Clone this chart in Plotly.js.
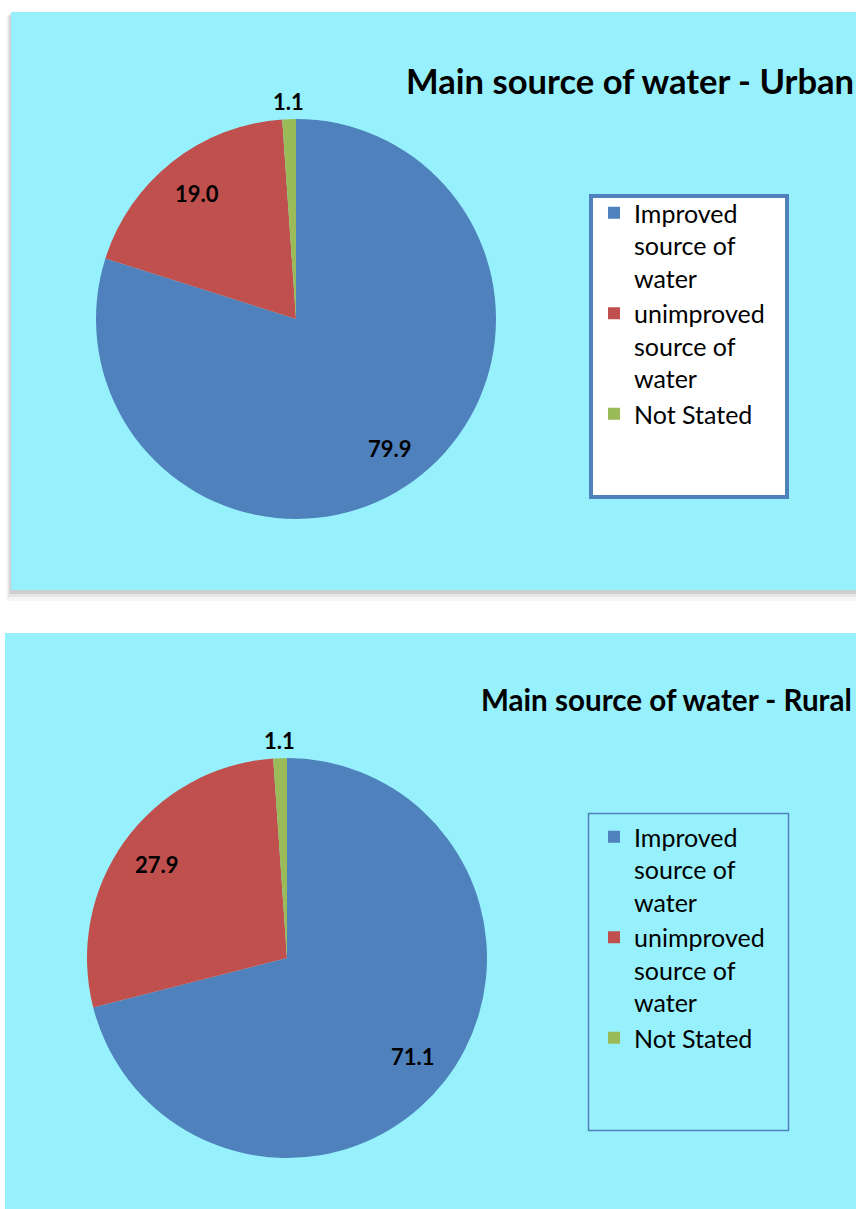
<!DOCTYPE html>
<html>
<head>
<meta charset="utf-8">
<script src="https://cdn.plot.ly/plotly-3.0.1.min.js"></script>
<style>html,body{margin:0;padding:0;background:#fff;}#chart{width:856px;height:1209px;}</style>
</head>
<body>
<div id="chart"></div>
<script>
// ---- data ----
const categories = ['Improved source of water', 'unimproved source of water', 'Not Stated'];
const legendLabels = ['Improved<br>source of<br>water', 'unimproved<br>source of<br>water', 'Not Stated'];
const urbanValues = [79.9, 19.0, 1.1];
const ruralValues = [71.1, 27.9, 1.1];
const urbanTitle = 'Main source of water - Urban';
const ruralTitle = 'Main source of water - Rural';
const sliceColors = ['#4F81BD', '#C0504D', '#9BBB59'];

// ---- layout helpers ----
const W = 856, H = 1209;
const px = x => x / W;
const py = y => 1 - y / H;
const FONT = 'Lato, Carlito, "Open Sans", sans-serif';
const BG = '#97F1FC';

const urbanDomain = {x: [px(96), px(496)], y: [py(519), py(119)]};
const ruralDomain = {x: [px(87), px(487)], y: [py(1158), py(758)]};

function pieLabels(values, domain, insideFrac, outsideFrac, outsideIdx) {
  const total = values.reduce((a, b) => a + b, 0);
  const x0 = domain.x[0] * W, x1 = domain.x[1] * W;
  const yTop = (1 - domain.y[1]) * H, yBot = (1 - domain.y[0]) * H;
  const cx = (x0 + x1) / 2, cy = (yTop + yBot) / 2;
  const R = Math.min(x1 - x0, yBot - yTop) / 2;
  let cum = 0;
  return values.map((v, i) => {
    const mid = (cum + v / 2) / total * 2 * Math.PI;
    cum += v;
    const f = (i === outsideIdx) ? outsideFrac : insideFrac;
    const x = cx + R * f * Math.sin(mid);
    const y = cy - R * f * Math.cos(mid);
    return {
      x: px(x), y: py(y), xref: 'paper', yref: 'paper',
      text: v.toFixed(1), showarrow: false,
      xanchor: 'center', yanchor: 'middle',
      font: {family: FONT, size: 22, color: '#000', weight: 700}
    };
  });
}

const traces = [
  {
    type: 'pie', labels: legendLabels, values: urbanValues,
    domain: urbanDomain, sort: false, direction: 'clockwise', rotation: 0,
    marker: {colors: sliceColors, line: {width: 0}},
    textinfo: 'none', hoverinfo: 'label+value',
    legend: 'legend', legendgroup: 'urban'
  },
  {
    type: 'pie', labels: legendLabels, values: ruralValues,
    domain: ruralDomain, sort: false, direction: 'clockwise', rotation: 0,
    marker: {colors: sliceColors, line: {width: 0}},
    textinfo: 'none', hoverinfo: 'label+value',
    legend: 'legend2', legendgroup: 'rural'
  }
];

const shapes = [
  // top panel soft shadow (mostly below, faint at left)
  {type: 'rect', xref: 'paper', yref: 'paper', layer: 'below', x0: px(6), x1: px(860), y0: py(601), y1: py(16),
   fillcolor: 'rgba(0,0,0,0.04)', line: {width: 0}},
  {type: 'rect', xref: 'paper', yref: 'paper', layer: 'below', x0: px(8), x1: px(860), y0: py(597), y1: py(15),
   fillcolor: 'rgba(0,0,0,0.06)', line: {width: 0}},
  {type: 'rect', xref: 'paper', yref: 'paper', layer: 'below', x0: px(9.5), x1: px(860), y0: py(594), y1: py(14),
   fillcolor: 'rgba(0,0,0,0.10)', line: {width: 0}},
  // top panel
  {type: 'rect', xref: 'paper', yref: 'paper', layer: 'below', x0: px(11), x1: px(860), y0: py(590), y1: py(12),
   fillcolor: BG, line: {width: 0}},
  // bottom panel
  {type: 'rect', xref: 'paper', yref: 'paper', layer: 'below', x0: px(5), x1: px(860), y0: py(1215), y1: py(633),
   fillcolor: BG, line: {width: 0}},
  // top legend box
  {type: 'rect', xref: 'paper', yref: 'paper', layer: 'below', x0: px(591), x1: px(787), y0: py(497), y1: py(196),
   fillcolor: '#FFFFFF', line: {color: '#4F81BD', width: 4}},
  // bottom legend box
  {type: 'rect', xref: 'paper', yref: 'paper', layer: 'below', x0: px(588.5), x1: px(788.5), y0: py(1130.5), y1: py(813.5),
   fillcolor: 'rgba(0,0,0,0)', line: {color: '#4F81BD', width: 1.5}}
];

const annotations = [
  {x: px(404), y: py(81), xref: 'paper', yref: 'paper', text: urbanTitle, showarrow: false,
   xanchor: 'left', yanchor: 'middle', font: {family: FONT, size: 34.6, color: '#000', weight: 700}},
  {x: px(479), y: py(699), xref: 'paper', yref: 'paper', text: ruralTitle, showarrow: false,
   xanchor: 'left', yanchor: 'middle', font: {family: FONT, size: 29.6, color: '#000', weight: 700}}
].concat(pieLabels(urbanValues, urbanDomain, 0.8, 1.09, 2))
 .concat(pieLabels(ruralValues, ruralDomain, 0.8, 1.09, 2));

const legendBase = {
  xanchor: 'left', yanchor: 'top', bgcolor: 'rgba(0,0,0,0)', borderwidth: 0,
  font: {family: FONT, size: 25, color: '#000'}, valign: 'top',
  itemclick: false, itemdoubleclick: false, orientation: 'v', tracegroupgap: 0
};

const layout = {
  width: W, height: H,
  margin: {l: 0, r: 0, t: 0, b: 0},
  paper_bgcolor: '#FFFFFF', plot_bgcolor: 'rgba(0,0,0,0)',
  showlegend: true,
  legend: Object.assign({}, legendBase, {x: px(594), y: py(190)}),
  legend2: Object.assign({}, legendBase, {x: px(594), y: py(814)}),
  shapes: shapes,
  annotations: annotations
};

Plotly.newPlot('chart', traces, layout, {staticPlot: true, displayModeBar: false});
</script>
</body>
</html>
